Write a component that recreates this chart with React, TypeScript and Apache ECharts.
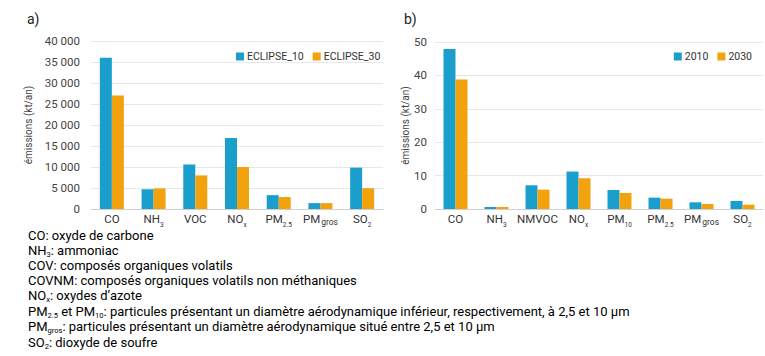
import React, { useEffect, useRef } from "react";
import * as echarts from "echarts";

const categoriesA = ["CO", "NH3", "VOC", "NOx", "PM2.5", "PMgros", "SO2"];
const eclipse10 = [36000, 4700, 10600, 16900, 3300, 1400, 9850];
const eclipse30 = [27000, 4900, 8000, 10000, 2850, 1400, 4950];

const categoriesB = ["CO", "NH3", "NMVOC", "NOx", "PM10", "PM2.5", "PMgros", "SO2"];
const y2010 = [47.9, 0.6, 7.1, 11.2, 5.7, 3.4, 2.0, 2.4];
const y2030 = [38.8, 0.6, 5.8, 9.2, 4.8, 3.1, 1.5, 1.3];

const legendA = ["ECLIPSE_10", "ECLIPSE_30"];
const legendB = ["2010", "2030"];

const yTitle = "émissions (kt/an)";

const richLabel: Record<string, string> = {
  CO: "{m|CO}",
  NH3: "{m|NH}{s|3}",
  VOC: "{m|VOC}",
  NMVOC: "{m|NMVOC}",
  NOx: "{m|NO}{s|x}",
  "PM2.5": "{m|PM}{s|2.5}",
  PM10: "{m|PM}{s|10}",
  PMgros: "{m|PM}{g|gros}",
  SO2: "{m|SO}{s|2}",
};

const footnotes = [
  "{t|CO: oxyde de carbone}",
  "{t|NH}{s|3}{t|: ammoniac}",
  "{t|COV: composés organiques volatils}",
  "{t|COVNM: composés organiques volatils non méthaniques}",
  "{t|NO}{s|x}{t|: oxydes d’azote}",
  "{t|PM}{s|2.5}{t| et PM}{s|10}{t|: particules présentant un diamètre aérodynamique inférieur, respectivement, à 2,5 et 10 µm}",
  "{t|PM}{s|gros}{t|: particules présentant un diamètre aérodynamique situé entre 2,5 et 10 µm}",
  "{t|SO}{s|2}{t|: dioxyde de soufre}",
];
const footY = [235, 250, 265, 280, 295, 311, 326, 342];

const BLUE = "#1A9ECB";
const ORANGE = "#F2A20C";
const FONT = "Roboto, 'Liberation Sans', sans-serif";

const fmtThousands = (v: number) =>
  String(v).replace(/\B(?=(\d{3})+(?!\d))/g, " ");

export default function App() {
  const ref = useRef<HTMLDivElement>(null);
  useEffect(() => {
    document.body.style.margin = "0";
    const chart = echarts.init(ref.current!, null, { renderer: "svg" });
    const labelRich = {
      m: { fontSize: 11.5, color: "#333", fontFamily: FONT, lineHeight: 13, verticalAlign: "bottom" },
      s: { fontSize: 6.5, color: "#333", fontFamily: FONT, lineHeight: 5, verticalAlign: "bottom", padding: [0, 0, -3, 0] },
      g: { fontSize: 8.5, color: "#333", fontFamily: FONT, lineHeight: 9, verticalAlign: "bottom", padding: [0, 0, -1, 1] },
    };
    const footRich = {
      t: { fontSize: 13, color: "#222", fontFamily: FONT, lineHeight: 13, verticalAlign: "bottom" },
      s: { fontSize: 7.5, color: "#222", fontFamily: FONT, lineHeight: 5, verticalAlign: "bottom", padding: [0, 0, -2, 0] },
    };
    const xAxisCommon = {
      type: "category" as const,
      axisTick: { show: false },
      axisLine: { lineStyle: { color: "#d0d0d0" } },
      axisLabel: {
        margin: 3,
        interval: 0,
        formatter: (v: string) => richLabel[v] || v,
        rich: labelRich,
      },
    };
    const yAxisCommon = {
      type: "value" as const,
      min: 0,
      nameLocation: "middle" as const,
      nameTextStyle: { fontSize: 10, color: "#444", fontFamily: FONT },
      axisLine: { show: false },
      axisTick: { show: false },
      splitLine: { lineStyle: { color: "#e8e8e8" } },
    };
    chart.setOption({
      animation: false,
      backgroundColor: "#ffffff",
      textStyle: { fontFamily: FONT },
      grid: [
        { left: 91, right: 382, top: 41, bottom: 147 },
        { left: 435, right: 2, top: 42, bottom: 147 },
      ],
      legend: [
        {
          data: legendA,
          left: 231,
          top: 46,
          orient: "horizontal",
          itemWidth: 8,
          itemHeight: 8,
          itemGap: 9,
          icon: "rect",
          textStyle: { fontSize: 10.5, color: "#333", fontFamily: FONT, padding: [0, 0, 0, -2] },
        },
        {
          data: legendB,
          right: 8,
          top: 46,
          orient: "horizontal",
          itemWidth: 8,
          itemHeight: 8,
          itemGap: 9,
          icon: "rect",
          textStyle: { fontSize: 10.5, color: "#333", fontFamily: FONT, padding: [0, 0, 0, -2] },
        },
      ],
      xAxis: [
        { ...xAxisCommon, gridIndex: 0, data: categoriesA },
        { ...xAxisCommon, gridIndex: 1, data: categoriesB },
      ],
      yAxis: [
        {
          ...yAxisCommon,
          gridIndex: 0,
          max: 40000,
          interval: 5000,
          name: yTitle,
          nameGap: 58,
          axisLabel: {
            margin: 11,
            fontSize: 11.5,
            color: "#444",
            fontFamily: FONT,
            formatter: (v: number) => fmtThousands(v),
          },
        },
        {
          ...yAxisCommon,
          gridIndex: 1,
          max: 50,
          interval: 10,
          name: yTitle,
          nameGap: 21,
          axisLabel: { margin: 8, fontSize: 11.5, color: "#444", fontFamily: FONT },
        },
      ],
      series: [
        { name: legendA[0], type: "bar", xAxisIndex: 0, yAxisIndex: 0, data: eclipse10, barWidth: 12, barGap: "0%", itemStyle: { color: BLUE } },
        { name: legendA[1], type: "bar", xAxisIndex: 0, yAxisIndex: 0, data: eclipse30, barWidth: 12, barGap: "0%", itemStyle: { color: ORANGE } },
        { name: legendB[0], type: "bar", xAxisIndex: 1, yAxisIndex: 1, data: y2010, barWidth: 12, barGap: "0%", itemStyle: { color: BLUE } },
        { name: legendB[1], type: "bar", xAxisIndex: 1, yAxisIndex: 1, data: y2030, barWidth: 12, barGap: "0%", itemStyle: { color: ORANGE } },
      ],
      graphic: [
        { type: "text", left: 27, top: 12, style: { text: "a)", fontSize: 14, fill: "#222", fontFamily: FONT } },
        { type: "text", left: 404, top: 12, style: { text: "b)", fontSize: 14, fill: "#222", fontFamily: FONT } },
        ...footnotes.map((t, i) => ({
          type: "text",
          x: 28,
          y: footY[i],
          style: { text: t, rich: footRich, verticalAlign: "middle", align: "left" },
        })),
      ],
    });
    return () => chart.dispose();
  }, []);
  return <div ref={ref} style={{ width: 765, height: 356 }} />;
}
